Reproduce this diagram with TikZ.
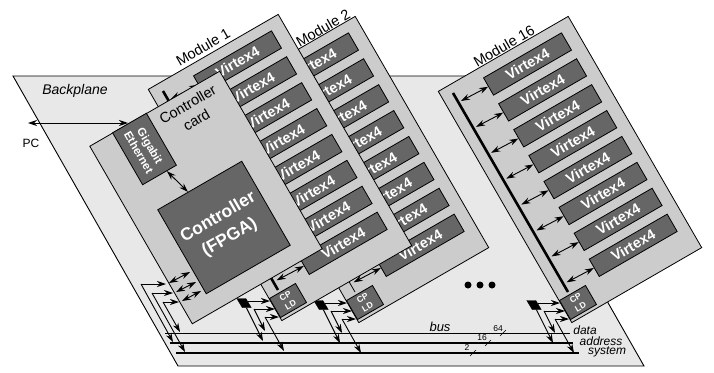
\documentclass[tikz,border=0pt]{standalone}
\usepackage{fontspec}
\setmainfont{Liberation Sans}
\usetikzlibrary{arrows.meta,calc}
\definecolor{bpgray}{RGB}{232,232,232}
\definecolor{cardgray}{RGB}{204,204,204}
\definecolor{chipgray}{RGB}{102,102,102}
\tikzset{
  board/.style={draw, fill=cardgray, line width=0.8pt, rotate=30, inner sep=0pt,
                minimum width=150, minimum height=267},
  chip/.style={draw, fill=chipgray, line width=0.8pt, rotate=30, inner sep=0pt,
               minimum width=90, minimum height=20, text=white,
               font=\fontsize{14.5}{14.5}\selectfont\bfseries},
  cpld/.style={draw, fill=chipgray, line width=0.8pt, rotate=30, inner sep=0pt,
               minimum width=30, minimum height=22, text=white, align=center,
               font=\fontsize{8.5}{10.5}\selectfont\bfseries},
  lab/.style={font=\fontsize{14.5}{17.5}\selectfont, inner sep=0pt, align=center},
  itlab/.style={font=\fontsize{12}{14}\selectfont\itshape, inner sep=0pt},
  tinylab/.style={font=\fontsize{8.5}{10}\selectfont, inner sep=0pt},
  link/.style={{Stealth[length=9pt,width=6pt]}-{Stealth[length=9pt,width=6pt]}, line width=0.9pt},
  feed/.style={-{Stealth[length=9pt,width=6pt]}, line width=0.9pt},
}

\begin{document}
\begin{tikzpicture}[x=1pt, y=-1pt]
\useasboundingbox (0,0) rectangle (714,372);

% Backplane
\draw[fill=bpgray, line width=0.9pt] (13,76) -- (479,76) -- (644,366) -- (178,366) -- cycle;
\node[itlab, font=\fontsize{14}{16}\selectfont\itshape] (backplane) at (75,91) {Backplane};

% Modules, far one first
\foreach \m/\x/\y/\w/\lx/\ly in {16/567/16/2.6pt/-63/30, 2/354/16/0.8pt/-31/12, 1/277/14/2.6pt/-74/33} {
  \begin{scope}[shift={(\x,\y)}]
    \node[board] (mod\m) at (3,153.5) {};
    \coordinate (bustop\m) at (-114,77);
    \coordinate (busend\m) at (1,276);
    \draw[line width=\w] (bustop\m) -- (busend\m);
    \foreach \i in {0,...,7} {
      \node[chip] (v\m-\i) at ({-39.5+15.1*\i},{48+25.9*\i}) {Virtex4};
      \coordinate (t\m-\i) at ({-106+15.1*\i},{85+25.9*\i});
      \draw[link] (t\m-\i) -- (v\m-\i.west);
    }
    \node[cpld] (cp\m) at (11,286.5) {CP\\LD};
    % feeds from the buffer
    \node[draw, fill=black, inner sep=0pt, minimum width=9, minimum height=9,
          xslant=-0.6] (buf\m) at (-33,289) {};
    \coordinate (ha\m) at (-29,287);
    \coordinate (hb\m) at (-23,295);
    \coordinate (hc\m) at (-12,303);
    \coordinate (da\m) at (-12,317);
    \coordinate (db\m) at (-14,327);
    \coordinate (dc\m) at (7,337);
    \draw[feed] (ha\m) -- ++(22,0);
    \draw[feed] (hb\m) -- ++(21,0);
    \draw[feed] (hc\m) -- ++(14,0);
    \draw[feed] (buf\m) -- (db\m);
    \draw[feed] (hb\m) -- (da\m);
    \draw[feed] (hc\m) -- (dc\m);
    \node[lab, rotate=30] (name\m) at (\lx,\ly) {Module \m};
  \end{scope}
}

% Controller card
\node[board, minimum height=205] (card) at (206,197.5) {};
\node[lab, rotate=30] (cardname) at (192,112) {Controller\\card};
\node[chip, rotate=-90, minimum width=60, minimum height=39,
      font=\fontsize{11.5}{13}\selectfont\bfseries, align=center] (giga) at (144.5,149) {Gigabit\\Ethernet};
\node[chip, minimum width=97, minimum height=97, align=center,
      font=\fontsize{17.5}{23}\selectfont\bfseries] (fpga) at (224,227.5) {Controller\\(FPGA)};
\draw[link] (giga) -- (fpga);

% Controller links
\foreach \n/\ax/\ay/\bx/\by/\cx/\cy/\dx/\dy in {a/141/284/166/284/173/342/190/272,
                                      b/152/293/173/293/185/352/196/282,
                                      c/163/302/179/302/180/332/201/291} {
  \coordinate (cf\n) at (\ax,\ay);
  \coordinate (ct\n) at (\bx,\by);
  \coordinate (cb\n) at (\cx,\cy);
  \coordinate (cc\n) at (\dx,\dy);
  \draw[feed] (cf\n) -- (ct\n);
  \draw[feed] (cf\n) -- (cb\n);
  \draw[link] ($(ct\n)+(3,-1)$) -- (cc\n);
}

% PC link
\coordinate (pcend) at (28,123);
\coordinate (pcgig) at (128,123);
\node[lab, font=\fontsize{12}{14}\selectfont] (pc) at (31,143) {PC};
\draw[link] (pcend) -- (pcgig);

% Bus
\coordinate (dataL) at (165,333);
\coordinate (dataR) at (570,333);
\coordinate (addrL) at (170,343);
\coordinate (addrR) at (573,343);
\coordinate (sysL) at (176,353);
\coordinate (sysR) at (579,353);
\draw[line width=1pt] (dataL) -- (dataR);
\draw[line width=1.4pt] (addrL) -- (addrR);
\draw[line width=1.2pt] (sysL) -- (sysR);
\node[itlab, font=\fontsize{13}{15}\selectfont\itshape] (bus) at (440,327) {bus};
\node[itlab] (data) at (585,330) {data};
\node[itlab] (address) at (601,341) {address};
\node[itlab] (system) at (607,352) {system};
\node[tinylab] (w64) at (498,329) {64};
\node[tinylab] (w16) at (482,338) {16};
\node[tinylab] (w2) at (467,348) {2};
\draw[line width=0.6pt] (500,336) -- (506,330);
\draw[line width=0.6pt] (485,346) -- (491,340);
\draw[line width=0.6pt] (470,356) -- (476,350);

% More modules
\foreach \i/\x in {a/468, b/480, c/492}
  \node[circle, fill=black, inner sep=0pt, minimum size=7] (dot\i) at (\x,285) {};

\end{tikzpicture}
\end{document}
